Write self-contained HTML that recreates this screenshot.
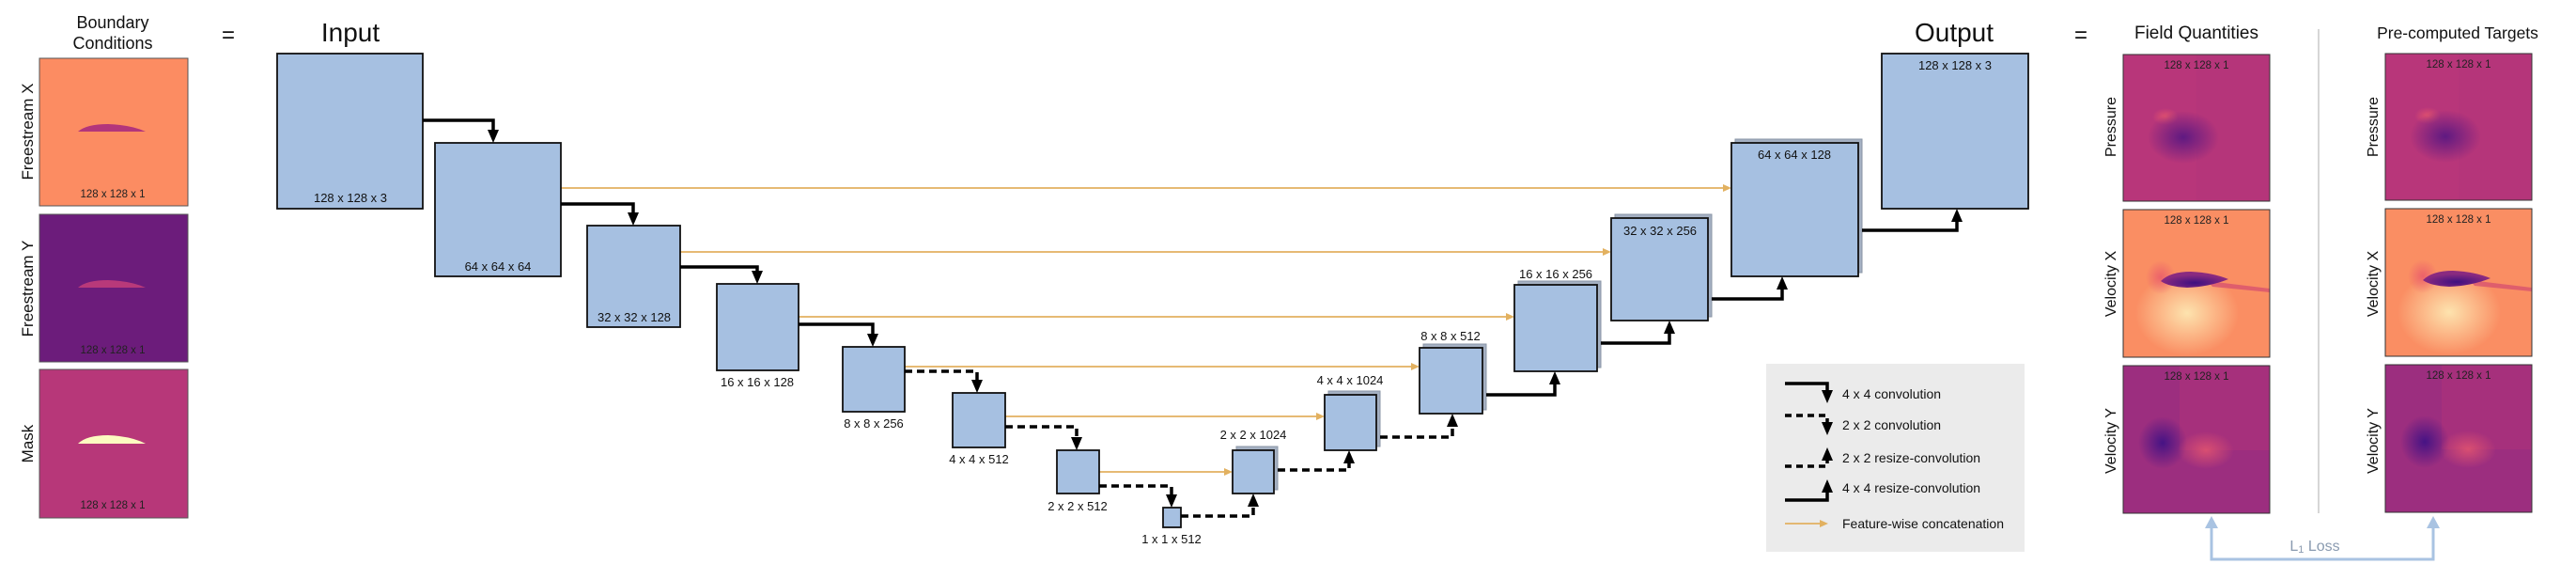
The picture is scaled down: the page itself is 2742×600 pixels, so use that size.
<!DOCTYPE html>
<html><head><meta charset="utf-8"><style>
html,body{margin:0;padding:0;background:#fff;}
svg{display:block;font-family:"Liberation Sans",sans-serif;}
</style></head><body>
<svg width="2742" height="600" viewBox="0 0 2742 600" xmlns="http://www.w3.org/2000/svg">
<defs>
<radialGradient id="gDark" cx="0.5" cy="0.5" r="0.5"><stop offset="0" stop-color="#5a1882" stop-opacity="0.95"/><stop offset="1" stop-color="#5a1882" stop-opacity="0"/></radialGradient>
<radialGradient id="gRed" cx="0.5" cy="0.5" r="0.5"><stop offset="0" stop-color="#e8566c" stop-opacity="0.8"/><stop offset="1" stop-color="#e8566c" stop-opacity="0"/></radialGradient>
<radialGradient id="gYel" cx="0.5" cy="0.5" r="0.5"><stop offset="0" stop-color="#fde3ae" stop-opacity="1"/><stop offset="1" stop-color="#fde3ae" stop-opacity="0"/></radialGradient>
<radialGradient id="gPink" cx="0.5" cy="0.5" r="0.5"><stop offset="0" stop-color="#e2546f" stop-opacity="0.85"/><stop offset="1" stop-color="#e2546f" stop-opacity="0"/></radialGradient>
<radialGradient id="gBlue" cx="0.5" cy="0.5" r="0.5"><stop offset="0" stop-color="#3c1085" stop-opacity="0.9"/><stop offset="1" stop-color="#3c1085" stop-opacity="0"/></radialGradient>
<radialGradient id="gAir" cx="0.5" cy="0.7" r="0.5"><stop offset="0" stop-color="#3d1080"/><stop offset="1" stop-color="#8a2a80"/></radialGradient>
</defs>

<text x="120" y="30" font-size="18" text-anchor="middle" fill="#111">Boundary</text>
<text x="120" y="52" font-size="18" text-anchor="middle" fill="#111">Conditions</text>
<g>
<rect x="42" y="62" width="158" height="157" fill="#fc8c62" stroke="#555" stroke-width="1"/>
<path d="M83,140 Q92,132 115,132 Q140,133 155,140 Z" fill="#b3357b"/>
<text x="120" y="210" font-size="11.5" text-anchor="middle" fill="#222">128 x 128 x 1</text>
<rect x="42" y="228" width="158" height="157" fill="#6c1c7b" stroke="#555" stroke-width="1"/>
<path d="M83,306 Q92,298 115,298 Q140,299 155,306 Z" fill="#b8397a"/>
<text x="120" y="376" font-size="11.5" text-anchor="middle" fill="#222">128 x 128 x 1</text>
<rect x="42" y="393" width="158" height="158" fill="#b73779" stroke="#555" stroke-width="1"/>
<path d="M83,472 Q92,463 115,463 Q140,464 155,472 Z" fill="#fcfbc0"/>
<text x="120" y="541" font-size="11.5" text-anchor="middle" fill="#222">128 x 128 x 1</text>
<text transform="translate(35,140) rotate(-90)" font-size="17" text-anchor="middle" fill="#111">Freestream X</text>
<text transform="translate(35,307) rotate(-90)" font-size="17" text-anchor="middle" fill="#111">Freestream Y</text>
<text transform="translate(35,472) rotate(-90)" font-size="17" text-anchor="middle" fill="#111">Mask</text>
</g>
<text x="243" y="45" font-size="24" text-anchor="middle" fill="#111">=</text>
<text x="373" y="44" font-size="28" text-anchor="middle" fill="#111">Input</text>
<text x="2080" y="44" font-size="28" text-anchor="middle" fill="#111">Output</text>
<text x="2215" y="45" font-size="24" text-anchor="middle" fill="#111">=</text>

<g stroke="#e2b160" stroke-width="1.8" fill="#e2b160">
<line x1="597" y1="200" x2="1837" y2="200"/><polygon points="1843,200 1834,196 1834,204" stroke="none"/>
<line x1="724" y1="268" x2="1709" y2="268"/><polygon points="1715,268 1706,264 1706,272" stroke="none"/>
<line x1="850" y1="337" x2="1606" y2="337"/><polygon points="1612,337 1603,333 1603,341" stroke="none"/>
<line x1="963" y1="390" x2="1505" y2="390"/><polygon points="1511,390 1502,386 1502,394" stroke="none"/>
<line x1="1070" y1="443" x2="1404" y2="443"/><polygon points="1410,443 1401,439 1401,447" stroke="none"/>
<line x1="1170" y1="502" x2="1306" y2="502"/><polygon points="1312,502 1303,498 1303,506" stroke="none"/>
</g>

<g fill="#a4b0c2" stroke="#8a95a5" stroke-width="1">
<rect x="1316" y="475" width="44" height="46"/>
<rect x="1414" y="416" width="55" height="59"/>
<rect x="1515" y="366" width="67" height="70"/>
<rect x="1616" y="299" width="88" height="92"/>
<rect x="1719" y="228" width="103" height="109"/>
<rect x="1847" y="148" width="135" height="142"/>
</g>

<g fill="#a6c0e1" stroke="#111" stroke-width="1.8">
<rect x="295" y="57" width="155" height="165"/>
<rect x="463" y="152" width="134" height="142"/>
<rect x="625" y="240" width="99" height="108"/>
<rect x="763" y="302" width="87" height="92"/>
<rect x="897" y="369" width="66" height="69"/>
<rect x="1014" y="418" width="56" height="58"/>
<rect x="1125" y="479" width="45" height="46"/>
<rect x="1238" y="540" width="19" height="21"/>
<rect x="1312" y="479" width="44" height="46"/>
<rect x="1410" y="420" width="55" height="59"/>
<rect x="1511" y="370" width="67" height="70"/>
<rect x="1612" y="303" width="88" height="92"/>
<rect x="1715" y="232" width="103" height="109"/>
<rect x="1843" y="152" width="135" height="142"/>
<rect x="2003" y="57" width="156" height="165"/>
</g>

<g font-size="13" text-anchor="middle" fill="#111">
<text x="373" y="215">128 x 128 x 3</text>
<text x="530" y="288">64 x 64 x 64</text>
<text x="675" y="342">32 x 32 x 128</text>
<text x="806" y="411">16 x 16 x 128</text>
<text x="930" y="455">8 x 8 x 256</text>
<text x="1042" y="493">4 x 4 x 512</text>
<text x="1147" y="543">2 x 2 x 512</text>
<text x="1247" y="578">1 x 1 x 512</text>
<text x="1334" y="467">2 x 2 x 1024</text>
<text x="1437" y="409">4 x 4 x 1024</text>
<text x="1544" y="362">8 x 8 x 512</text>
<text x="1656" y="296">16 x 16 x 256</text>
<text x="1767" y="250">32 x 32 x 256</text>
<text x="1910" y="169">64 x 64 x 128</text>
<text x="2081" y="74">128 x 128 x 3</text>
</g>

<g stroke="#000" stroke-width="3.5" fill="none">
<polyline points="450,128 525,128 525,140"/>
<polyline points="597,217 674,217 674,228"/>
<polyline points="724,284 806,284 806,290"/>
<polyline points="850,345 929,345 929,357"/>
<polyline points="963,395 1040,395 1040,406" stroke-dasharray="8,5"/>
<polyline points="1070,454 1146,454 1146,467" stroke-dasharray="8,5"/>
<polyline points="1170,517 1247,517 1247,528" stroke-dasharray="8,5"/>
</g>
<g fill="#000">
<polygon points="519,138 531,138 525,152"/>
<polygon points="668,226 680,226 674,240"/>
<polygon points="800,288 812,288 806,302"/>
<polygon points="923,355 935,355 929,369"/>
<polygon points="1034,404 1046,404 1040,418"/>
<polygon points="1140,465 1152,465 1146,479"/>
<polygon points="1241,526 1253,526 1247,540"/>
</g>
<g stroke="#000" stroke-width="3.5" fill="none">
<polyline points="1257,549 1334,549 1334,537" stroke-dasharray="8,5"/>
<polyline points="1360,500 1436,500 1436,491" stroke-dasharray="8,5"/>
<polyline points="1469,465 1546,465 1546,452" stroke-dasharray="8,5"/>
<polyline points="1582,420 1655,420 1655,407"/>
<polyline points="1704,365 1777,365 1777,353"/>
<polyline points="1822,318 1897,318 1897,306"/>
<polyline points="1982,245 2083,245 2083,234"/>
</g>
<g fill="#000">
<polygon points="1328,539 1340,539 1334,525"/>
<polygon points="1430,493 1442,493 1436,479"/>
<polygon points="1540,454 1552,454 1546,440"/>
<polygon points="1649,409 1661,409 1655,395"/>
<polygon points="1771,355 1783,355 1777,341"/>
<polygon points="1891,308 1903,308 1897,294"/>
<polygon points="2077,236 2089,236 2083,222"/>
</g>

<rect x="1880" y="387" width="275" height="200" fill="#ebebeb"/>
<g stroke="#000" stroke-width="3.5" fill="none">
<polyline points="1900,408 1945,408 1945,417"/>
<polyline points="1900,442 1945,442 1945,451" stroke-dasharray="7,5"/>
<polyline points="1900,496 1945,496 1945,488" stroke-dasharray="7,5"/>
<polyline points="1900,532 1945,532 1945,522"/>
</g>
<g fill="#000">
<polygon points="1939,415 1951,415 1945,429"/>
<polygon points="1939,449 1951,449 1945,463"/>
<polygon points="1939,490 1951,490 1945,476"/>
<polygon points="1939,524 1951,524 1945,510"/>
</g>
<line x1="1900" y1="557" x2="1940" y2="557" stroke="#e2b160" stroke-width="1.8"/>
<polygon points="1946,557 1937,553 1937,561" fill="#e2b160"/>
<g font-size="14" fill="#111">
<text x="1961" y="424">4 x 4 convolution</text>
<text x="1961" y="457">2 x 2 convolution</text>
<text x="1961" y="492">2 x 2 resize-convolution</text>
<text x="1961" y="524">4 x 4 resize-convolution</text>
<text x="1961" y="562">Feature-wise concatenation</text>
</g>

<text x="2338" y="41" font-size="19" text-anchor="middle" fill="#111">Field Quantities</text>
<text x="2616" y="41" font-size="17.5" text-anchor="middle" fill="#111">Pre-computed Targets</text>
<line x1="2468" y1="31" x2="2468" y2="546" stroke="#c8c8c8" stroke-width="1.5"/>

<g id="fieldL">
<g transform="translate(2260,58)">
<rect width="156" height="156" fill="#b8367a"/>
<rect x="78" width="78" height="156" fill="#b23679" opacity="0.6"/>
<ellipse cx="45" cy="66" rx="14" ry="9" fill="url(#gRed)"/>
<ellipse cx="64" cy="88" rx="38" ry="28" fill="url(#gDark)"/>
<rect width="156" height="156" fill="none" stroke="#333" stroke-width="1"/>
<text x="78" y="15" font-size="11.5" text-anchor="middle" fill="#222">128 x 128 x 1</text>
</g>
<g transform="translate(2260,223)">
<rect width="156" height="157" fill="#fa8e63"/>
<ellipse cx="68" cy="110" rx="55" ry="45" fill="url(#gYel)"/>
<ellipse cx="40" cy="72" rx="16" ry="18" fill="url(#gRed)"/>
<polygon points="90,76 156,84 156,88 95,82" fill="#d34a70" opacity="0.7"/>
<path d="M40,76 Q50,66 72,66 Q95,67 112,74 Q92,82 68,83 Q48,82 40,76 Z" fill="url(#gAir)"/>
<rect width="156" height="157" fill="none" stroke="#333" stroke-width="1"/>
<text x="78" y="15" font-size="11.5" text-anchor="middle" fill="#222">128 x 128 x 1</text>
</g>
<g transform="translate(2260,389)">
<rect width="156" height="157" fill="#9c2e7f"/>
<rect x="60" width="96" height="90" fill="#ad3279" opacity="0.6"/>
<ellipse cx="42" cy="82" rx="26" ry="28" fill="url(#gBlue)"/>
<ellipse cx="88" cy="90" rx="30" ry="20" fill="url(#gPink)"/>
<rect width="156" height="157" fill="none" stroke="#333" stroke-width="1"/>
<text x="78" y="15" font-size="11.5" text-anchor="middle" fill="#222">128 x 128 x 1</text>
</g>
</g>
<use href="#fieldL" x="279" y="-1"/>

<g font-size="16" text-anchor="middle" fill="#111">
<text transform="translate(2252,135) rotate(-90)">Pressure</text>
<text transform="translate(2252,302) rotate(-90)">Velocity X</text>
<text transform="translate(2252,469) rotate(-90)">Velocity Y</text>
<text transform="translate(2531,135) rotate(-90)">Pressure</text>
<text transform="translate(2531,302) rotate(-90)">Velocity X</text>
<text transform="translate(2531,469) rotate(-90)">Velocity Y</text>
</g>

<polyline points="2354,560 2354,595 2590,595 2590,560" fill="none" stroke="#a9c3e2" stroke-width="3"/>
<polygon points="2347,562 2361,562 2354,549" fill="#a9c3e2"/>
<polygon points="2583,562 2597,562 2590,549" fill="#a9c3e2"/>
<text x="2464" y="586" font-size="16" text-anchor="middle" fill="#8a9bb0">L<tspan font-size="11" dy="2">1</tspan><tspan dy="-2"> Loss</tspan></text>
</svg>
</body></html>
